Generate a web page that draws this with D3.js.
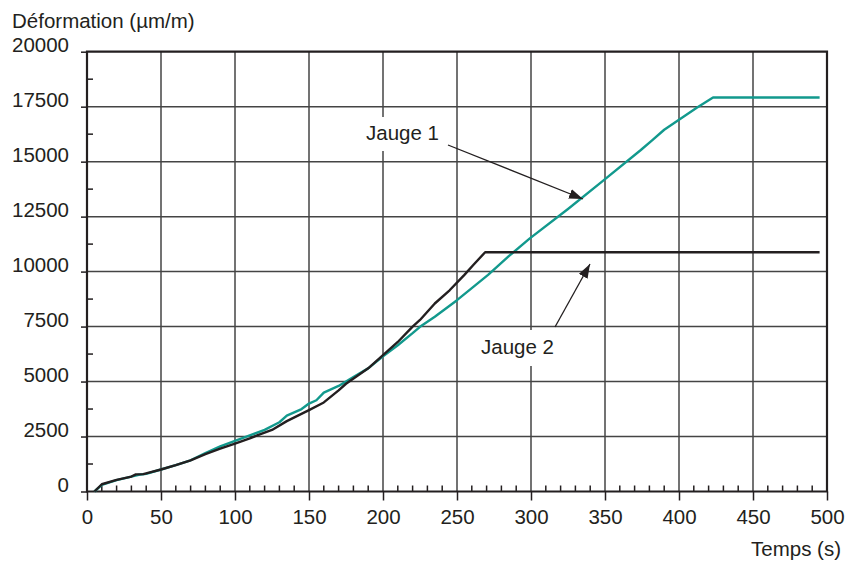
<!DOCTYPE html>
<html lang="fr">
	<head>
		<meta charset="utf-8">
		<title>Déformation jauges</title>
		<script type="text/javascript" src="https://cdn.jsdelivr.net/npm/d3@7"></script>
		<style type="text/css">
			body { margin: 0; background: #fff; }
			text { font-family: "Liberation Sans", Arial, sans-serif; fill: #231f20; }
		</style>
	</head>
	<body>
		<script type="text/javascript">

			//Width and height
			var w = 845;
			var h = 562;

			// data: [temps (s), deformation (µm/m)]
			var jauge1 = [
				[5,0],[10,300],[20,520],[30,680],[35,760],[40,800],[50,1000],[60,1200],
				[70,1420],[80,1750],[90,2050],[100,2300],[110,2550],[120,2800],[130,3150],
				[135,3450],[145,3750],[150,4000],[155,4150],[160,4500],[170,4800],[180,5200],
				[190,5600],[200,6150],[210,6650],[220,7200],[225,7490],[235,7950],[250,8700],
				[260,9250],[271,9850],[285,10700],[299,11500],[325,12850],[349,14150],
				[374,15520],[382,15980],[390,16450],[401,16950],[412,17450],[423,17920],[495,17920]
			];
			var jauge2 = [
				[5,0],[10,330],[20,530],[30,680],[33,780],[38,790],[50,1000],[60,1200],
				[70,1420],[80,1700],[90,1950],[100,2180],[110,2420],[115,2550],[125,2800],
				[135,3200],[150,3700],[160,4050],[170,4600],[175,4900],[190,5600],[200,6200],
				[210,6800],[220,7500],[225,7800],[235,8550],[245,9150],[255,9850],[261,10300],
				[269,10880],[495,10880]
			];

			var xTicks = [0,50,100,150,200,250,300,350,400,450,500];
			var yTicks = [0,2500,5000,7500,10000,12500,15000,17500,20000];
			var xMinor = d3.range(0,500,10).filter(function(d){return d%50!==0;});
			var yMinor = d3.range(1250,20000,2500);

			var xScale = d3.scaleLinear().domain([0,500]).range([87,827]);
			var yScale = d3.scaleLinear().domain([0,20000]).range([491.5,51.7]);

			var fs = 20.5;

			var svg = d3.select("body")
						.append("svg")
						.attr("width",w)
						.attr("height",h);

			// grid
			svg.selectAll("line.gx")
			.data(xTicks.slice(1,-1))
			.enter()
			.append("line")
			.attr("x1",function(d){return xScale(d);})
			.attr("x2",function(d){return xScale(d);})
			.attr("y1",yScale(0))
			.attr("y2",yScale(20000))
			.attr("stroke","#444")
			.attr("stroke-width",1.5);

			svg.selectAll("line.gy")
			.data(yTicks.slice(1,-1))
			.enter()
			.append("line")
			.attr("x1",xScale(0))
			.attr("x2",xScale(500))
			.attr("y1",function(d){return yScale(d);})
			.attr("y2",function(d){return yScale(d);})
			.attr("stroke","#444")
			.attr("stroke-width",1.5);

			// minor ticks
			svg.selectAll("line.mx")
			.data(xMinor)
			.enter()
			.append("line")
			.attr("x1",function(d){return xScale(d);})
			.attr("x2",function(d){return xScale(d);})
			.attr("y1",yScale(0))
			.attr("y2",yScale(0)-6)
			.attr("stroke","#231f20")
			.attr("stroke-width",1.5);

			svg.selectAll("line.my")
			.data(yMinor)
			.enter()
			.append("line")
			.attr("x1",xScale(0))
			.attr("x2",xScale(0)+6)
			.attr("y1",function(d){return yScale(d);})
			.attr("y2",function(d){return yScale(d);})
			.attr("stroke","#231f20")
			.attr("stroke-width",1.5);

			// axes
			var xAxis = d3.axisBottom(xScale).tickValues(xTicks).tickFormat(d3.format("d")).tickSize(9).tickPadding(9);
			var yAxis = d3.axisLeft(yScale).tickValues(yTicks).tickFormat(d3.format("d")).tickSize(6).tickPadding(12);

			var gx = svg.append("g")
			.attr("transform","translate(0,"+yScale(0)+")")
			.call(xAxis);
			var gy = svg.append("g")
			.attr("transform","translate("+xScale(0)+",0)")
			.call(yAxis);

			[gx,gy].forEach(function(g){
				g.select(".domain").remove();
				g.selectAll(".tick line").attr("stroke","#231f20").attr("stroke-width",1.5);
				g.selectAll("text").attr("font-size",fs).attr("fill","#231f20")
				.style("font-family","'Liberation Sans', Arial, sans-serif");
			});
			gy.selectAll("text").attr("dy","0").attr("y",0);

			// frame
			svg.append("path")
			.attr("d","M"+xScale(0)+","+yScale(0)+"H"+xScale(500)+"V"+yScale(20000)+"H"+xScale(0)+"Z")
			.attr("fill","none")
			.attr("stroke","#231f20")
			.attr("stroke-width",2.2);

			// curves
			var line = d3.line()
			.x(function(d){return xScale(d[0]);})
			.y(function(d){return yScale(d[1]);});

			svg.append("path")
			.datum(jauge1)
			.attr("d",line)
			.attr("fill","none")
			.attr("stroke","#12998d")
			.attr("stroke-width",2.4)
			.attr("stroke-linejoin","round");

			svg.append("path")
			.datum(jauge2)
			.attr("d",line)
			.attr("fill","none")
			.attr("stroke","#231f20")
			.attr("stroke-width",2.4)
			.attr("stroke-linejoin","round");

			// annotations
			svg.append("defs").append("marker")
			.attr("id","head")
			.attr("viewBox","0 0 14 10")
			.attr("refX",14).attr("refY",5)
			.attr("markerWidth",14).attr("markerHeight",10)
			.attr("markerUnits","userSpaceOnUse")
			.attr("orient","auto")
			.append("path")
			.attr("d","M0,0L14,5L0,10Z")
			.attr("fill","#231f20");

			function label(txt,x,y,bx,by,bw,bh){
				svg.append("rect").attr("x",bx).attr("y",by).attr("width",bw).attr("height",bh).attr("fill","#fff");
				svg.append("text").attr("x",x).attr("y",y).attr("font-size",fs).text(txt);
			}
			label("Jauge 1",366,140,358,117,90,34);
			label("Jauge 2",481,354,472,330,94,36);

			svg.append("line")
			.attr("x1",448).attr("y1",145).attr("x2",583).attr("y2",199)
			.attr("stroke","#231f20").attr("stroke-width",1.3)
			.attr("marker-end","url(#head)");
			svg.append("line")
			.attr("x1",555).attr("y1",327).attr("x2",590).attr("y2",264)
			.attr("stroke","#231f20").attr("stroke-width",1.3)
			.attr("marker-end","url(#head)");

			// axis titles
			svg.append("text").attr("x",12).attr("y",28).attr("font-size",fs).text("Déformation (µm/m)");
			svg.append("text").attr("x",841).attr("y",556).attr("text-anchor","end").attr("font-size",fs).text("Temps (s)");

		</script>
	</body>
</html>
